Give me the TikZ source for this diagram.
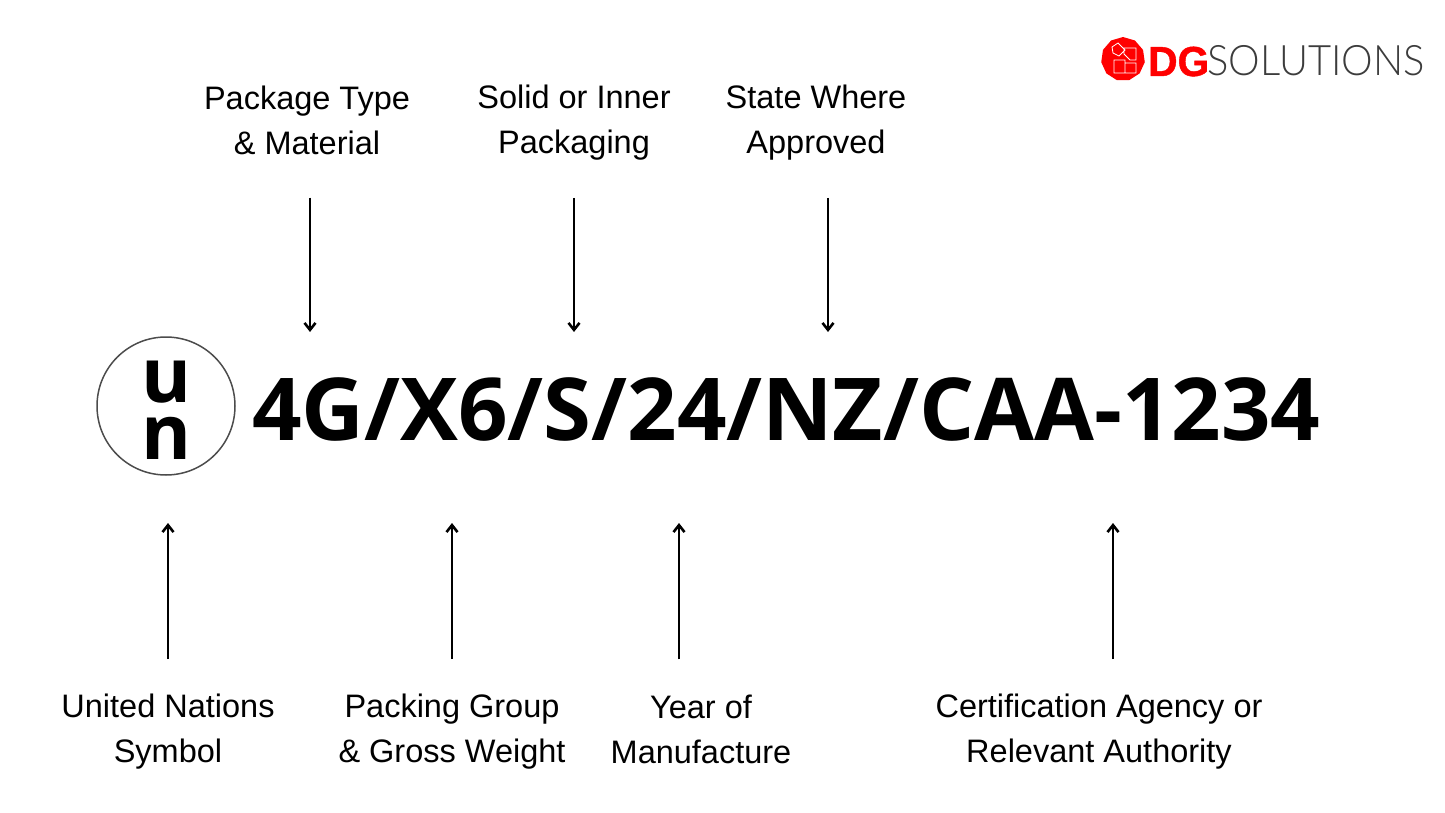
\documentclass[tikz,border=0pt]{standalone}
\usepackage{fontspec}
\usepackage{tikz}
\usetikzlibrary{shapes.geometric,arrows.meta}
\setmainfont{Liberation Sans}
\newfontfamily\codefont{Open Sans Bold}
\newfontfamily\logolight[FakeStretch=0.95]{Lato Light}
\newfontfamily\logobold[FakeStretch=0.97,FakeBold=1]{Liberation Sans Bold}
\definecolor{dgred}{HTML}{FF0000}
\definecolor{dggrey}{HTML}{3C3C3C}
\tikzset{
  labeltext/.style={align=center,inner sep=0,font=\fontsize{32.5}{45}\selectfont},
  pointer/.style={line width=2.6pt,-{Straight Barb[length=7pt,width=11pt,line width=2.6pt]}},
}
\begin{document}
\begin{tikzpicture}[x=1pt,y=-1pt]
\useasboundingbox (0,0) rectangle (1445,813);

% code line
\node (code) at (252,440) [anchor=base west,inner sep=0,font=\fontsize{86.8}{87}\codefont\selectfont] {4G/X6/S/24/NZ/CAA-1234};

% un symbol
\node (unring) at (166,406) [circle,draw=black!70,line width=1.5pt,minimum size=138pt,inner sep=0] {};
\node (unu) at (166,402) [anchor=base,inner sep=0,font=\fontsize{76}{76}\codefont\selectfont] {u};
\node (unn) at (166,459) [anchor=base,inner sep=0,font=\fontsize{76}{76}\codefont\selectfont] {n};

% top labels
\node (typelabel) at (307,120) [labeltext] {Package Type\\\& Material};
\node (innerlabel) at (574,123) [labeltext] {Solid or Inner\\Packaging};
\node (statelabel) at (816,123) [labeltext] {State Where\\Approved};

% bottom labels
\node (unlabel) at (168,732) [labeltext] {United Nations\\Symbol};
\node (grouplabel) at (452,732) [labeltext] {Packing Group\\\& Gross Weight};
\node (yearlabel) at (701,729) [labeltext] {Year of\\Manufacture};
\node (agencylabel) at (1099,732) [labeltext] {Certification Agency or\\Relevant Authority};

% arrow tips
\coordinate (typetip) at (310,332);
\coordinate (innertip) at (574,332);
\coordinate (statetip) at (828,332);
\coordinate (untip) at (168,523);
\coordinate (grouptip) at (452,523);
\coordinate (yeartip) at (679,523);
\coordinate (agencytip) at (1113,523);

\draw[pointer,shorten <=43pt] (typelabel.south -| typetip) -- (typetip);
\draw[pointer,shorten <=37pt] (innerlabel.south -| innertip) -- (innertip);
\draw[pointer,shorten <=37pt] (statelabel.south -| statetip) -- (statetip);
\draw[pointer,shorten <=35pt] (unlabel.north -| untip) -- (untip);
\draw[pointer,shorten <=35pt] (grouplabel.north -| grouptip) -- (grouptip);
\draw[pointer,shorten <=35pt] (yearlabel.north -| yeartip) -- (yeartip);
\draw[pointer,shorten <=35pt] (agencylabel.north -| agencytip) -- (agencytip);

% logo
\node (badge) at (1123,59) [regular polygon,regular polygon sides=11,fill=dgred,minimum size=44pt,inner sep=0] {};
\draw[white,line width=0.8pt] (1112,47) -- (1118,43) -- (1125,50) -- (1119,56) -- (1113,53) -- cycle
  (1124,48) -- (1136,48) -- (1136,60) -- (1130,60) -- (1124,54) -- cycle
  (1114,60) -- (1125,60) -- (1125,73) -- (1114,73) -- cycle
  (1125,63) -- (1136,63) -- (1136,73) -- (1125,73) -- cycle;
\node (dg) at (1148,76) [anchor=base west,inner sep=0,text=dgred,font=\fontsize{42}{42}\logobold\selectfont] {DG};
\node (solutions) at (1207,76) [anchor=base west,inner sep=0,text=dggrey,font=\fontsize{42}{42}\logolight\selectfont] {SOLUTIONS};

\end{tikzpicture}
\end{document}
